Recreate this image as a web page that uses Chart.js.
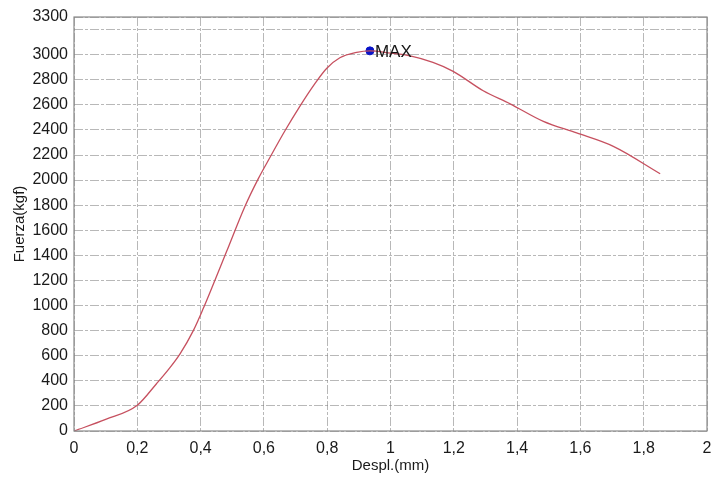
<!DOCTYPE html>
<html>
<head>
<meta charset="utf-8">
<script src="https://cdn.jsdelivr.net/npm/chart.js@4/dist/chart.umd.min.js"></script>
<style>
  html, body { margin: 0; padding: 0; background: #fff; }
  #wrap { width: 713px; height: 483px; }
</style>
</head>
<body>
<div id="wrap"><canvas id="chart" width="713" height="483"></canvas></div>
<script>
// load / displacement curve of the test
const despl = [0, 0.1, 0.2, 0.26, 0.3, 0.335, 0.377, 0.409, 0.445, 0.482, 0.54, 0.582, 0.619,
  0.667, 0.714, 0.76, 0.798, 0.84, 0.893, 0.935, 1.0, 1.062, 1.134, 1.198, 1.293, 1.378,
  1.483, 1.588, 1.704, 1.852];
const fuerza = [0, 92, 205, 375, 495, 615, 800, 980, 1200, 1430, 1790, 2010, 2180,
  2395, 2590, 2765, 2890, 2975, 3018, 3030, 3012, 2990, 2938, 2867, 2712, 2608,
  2468, 2376, 2269, 2051];

// maximum point
const maxDespl = [0.935];
const maxFuerza = [3030];
const maxLabel = 'MAX';

// y ticks: 3200 gets a grid line but no label
const yTicks = [0, 200, 400, 600, 800, 1000, 1200, 1400, 1600, 1800, 2000, 2200, 2400,
  2600, 2800, 3000, 3200, 3300];
const yHidden = [3200];

const toXY = (xs, ys) => xs.map((x, i) => ({ x: x, y: ys[i] }));

const FONT = '"Liberation Sans", Arial, sans-serif';
const gridStyle = { color: 'rgba(125,125,125,0.55)', lineWidth: 1, drawTicks: false };
const dashStyle = { display: false, dash: [9, 2, 3, 2] };

// frame around the plot area plus the MAX text
const framePlugin = {
  id: 'frame',
  afterDatasetsDraw(chart) {
    const { ctx, chartArea: a } = chart;
    ctx.save();
    ctx.strokeStyle = '#8a8a8a';
    ctx.lineWidth = 1.2;
    ctx.strokeRect(a.left, a.top, a.right - a.left, a.bottom - a.top);

    const pt = chart.getDatasetMeta(1).data[0];
    ctx.fillStyle = '#151515';
    ctx.font = '17px ' + FONT;
    ctx.textBaseline = 'middle';
    ctx.fillText(chart.data.datasets[1].label, pt.x + 5, pt.y + 1);
    ctx.restore();
  }
};

new Chart(document.getElementById('chart'), {
  type: 'scatter',
  data: {
    datasets: [
      {
        label: 'Fuerza',
        data: toXY(despl, fuerza),
        showLine: true,
        borderColor: '#c6505f',
        borderWidth: 1.3,
        pointRadius: 0,
        cubicInterpolationMode: 'monotone'
      },
      {
        label: maxLabel,
        data: toXY(maxDespl, maxFuerza),
        pointRadius: 4,
        pointStyle: 'circle',
        backgroundColor: '#0a14c8',
        borderColor: '#0a14c8'
      }
    ]
  },
  options: {
    responsive: false,
    animation: false,
    layout: { padding: { left: 0, top: 17, right: 6, bottom: 0 } },
    plugins: { legend: { display: false }, tooltip: { enabled: false } },
    scales: {
      x: {
        type: 'linear',
        min: 0,
        max: 2,
        grid: gridStyle,
        border: dashStyle,
        ticks: {
          stepSize: 0.2,
          padding: 8,
          color: '#1a1a1a',
          font: { family: FONT, size: 16 },
          callback: v => String(Number(v.toFixed(1))).replace('.', ',')
        },
        title: {
          display: true,
          text: 'Despl.(mm)',
          color: '#1a1a1a',
          font: { family: FONT, size: 15 },
          padding: { top: 0, bottom: 8 }
        },
        afterFit: s => { s.height = 52; s.paddingLeft = 0; s.paddingRight = 0; }
      },
      y: {
        type: 'linear',
        min: 0,
        max: 3300,
        grid: gridStyle,
        border: dashStyle,
        afterBuildTicks: s => { s.ticks = yTicks.map(v => ({ value: v })); },
        ticks: {
          padding: 6,
          color: '#1a1a1a',
          font: { family: FONT, size: 16 },
          callback: v => (yHidden.includes(v) ? '' : String(v))
        },
        title: {
          display: true,
          text: 'Fuerza(kgf)',
          color: '#1a1a1a',
          font: { family: FONT, size: 15 },
          padding: { top: 11, bottom: 0 }
        },
        afterFit: s => { s.width = 74; s.paddingTop = 0; s.paddingBottom = 0; }
      }
    }
  },
  plugins: [framePlugin]
});
</script>
</body>
</html>
